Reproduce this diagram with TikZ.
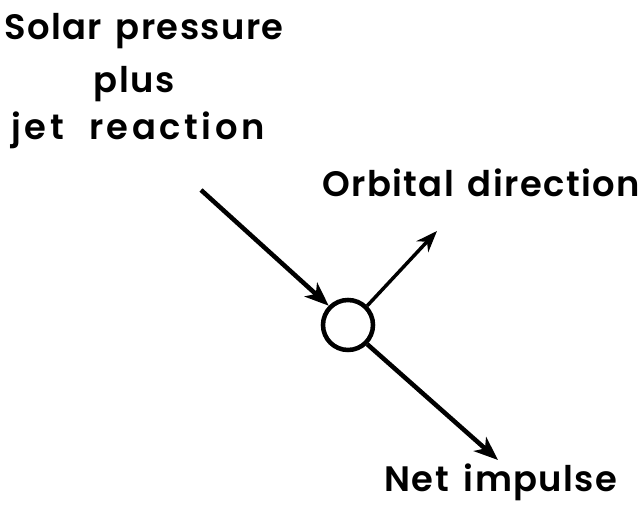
\documentclass[tikz,border=0pt]{standalone}
\usepackage{fontspec}
\setmainfont{Poppins}[BoldFont=* SemiBold,LetterSpace=4]
\usetikzlibrary{arrows.meta}
\begin{document}
\begin{tikzpicture}[x=0.75pt,y=-0.75pt,
  lbl/.style={anchor=base,inner sep=0pt,font=\bfseries\fontsize{26.5}{30}\selectfont},
  body/.style={circle,draw,line width=3.4pt,minimum size=37.5pt,inner sep=0pt},
  vec/.style={line width=3.4pt,-{Stealth[length=18pt,width=14pt,inset=5pt]}},
  thinvec/.style={line width=2.6pt,-{Stealth[length=16pt,width=12pt,inset=5pt]}}]
\useasboundingbox (0,0) rectangle (644,516);
\node[lbl] (l1) at (144,40) {Solar\hspace{3pt} pressure};
\node[lbl] (l2) at (134,93) {plus};
\node[lbl] (l3) at (138,140) {\addfontfeatures{LetterSpace=10}jet\hspace{10pt} reaction};
\node[lbl] (orb) at (481,197) {Orbital\hspace{3pt} direction};
\node[lbl] (net) at (501,492) {Net\hspace{4pt} impulse};
\node[body] (c) at (348,325) {};
\coordinate (s) at (201,190);
\coordinate (o) at (437,231);
\coordinate (n) at (498,460);
\draw[vec] (s) -- (c.135);
\draw[thinvec] (c.45) -- (o);
\draw[vec] (c.-45) -- (n);
\end{tikzpicture}
\end{document}
